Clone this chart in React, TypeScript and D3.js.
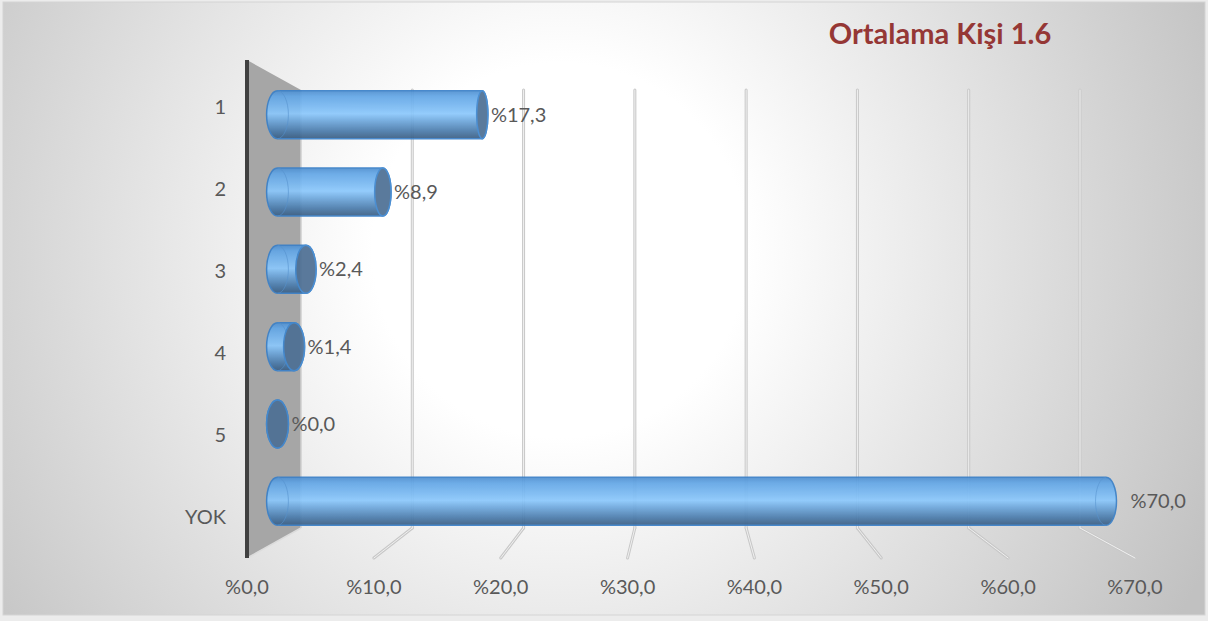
import React, { useEffect, useRef } from 'react';
import * as d3 from 'd3';

const categories = ['1', '2', '3', '4', '5', 'YOK'];
const values = [17.3, 8.9, 2.4, 1.4, 0.0, 70.0];
const ticks = [0, 10, 20, 30, 40, 50, 60, 70];
const title = 'Ortalama Kişi 1.6';

const W = 1208;
const H = 621;
const FONT = 'Lato, "Open Sans", sans-serif';

const fmt = (v: number) => '%' + v.toFixed(1).replace('.', ',');

const App: React.FC = () => {
  const ref = useRef<SVGSVGElement | null>(null);

  useEffect(() => {
    const svg = d3.select(ref.current);
    svg.selectAll('*').remove();

    // perspective planes: front (t=0), back (t=1), middle for the bars
    const xFront = d3.scaleLinear().domain([0, 70]).range([247, 1135]);
    const xBack = d3.scaleLinear().domain([0, 70]).range([301, 1080]);
    const xMid = d3.scaleLinear().domain([0, 70]).range([277.5, 1106]);
    const yFront = d3.scaleBand().domain(categories).range([66, 558]);
    const yMid = d3.scaleBand().domain(categories).range([76, 540]);
    const backTop = 90, backBottom = 528, frontTop = 60, frontBottom = 558;
    const viewX = 700;
    const rxAt = (x: number) => Math.max(2, 0.0258 * Math.abs(x - viewX));
    const ry = 24;

    const defs = svg.append('defs');
    const bg = defs.append('radialGradient').attr('id', 'bg')
      .attr('gradientUnits', 'userSpaceOnUse')
      .attr('cx', 560).attr('cy', 250).attr('r', 720);
    bg.append('stop').attr('offset', 0).attr('stop-color', '#ffffff');
    bg.append('stop').attr('offset', 0.26).attr('stop-color', '#ffffff');
    bg.append('stop').attr('offset', 1).attr('stop-color', '#c1c1c1');

    const bar = defs.append('linearGradient').attr('id', 'bar')
      .attr('x1', 0).attr('y1', 0).attr('x2', 0).attr('y2', 1);
    [[0, '#4f8fd0'], [0.12, '#62a6e6'], [0.36, '#7dbcf4'], [0.48, '#8bc8fc'],
     [0.62, '#6fa9de'], [0.84, '#4a7bab'], [1, '#3a5d82']].forEach(([o, c]) => {
      bar.append('stop').attr('offset', o as number).attr('stop-color', c as string);
    });

    svg.append('rect').attr('x', 0).attr('y', 0).attr('width', W).attr('height', H).attr('fill', '#ececec');
    svg.append('rect').attr('x', 3).attr('y', 2).attr('width', W - 6).attr('height', H - 8)
      .attr('fill', 'url(#bg)').attr('stroke', '#d4d4d4').attr('stroke-width', 1);

    // side wall
    svg.append('polygon')
      .attr('points', [[247, frontTop], [301, backTop], [301, backBottom], [247, frontBottom]].map(p => p.join(',')).join(' '))
      .attr('fill', '#a6a6a6');
    svg.append('line').attr('x1', 301).attr('x2', 301).attr('y1', backTop).attr('y2', backBottom)
      .attr('stroke', '#cfcfcf').attr('stroke-width', 1.5);
    svg.append('line').attr('x1', 301).attr('x2', 249).attr('y1', backBottom).attr('y2', frontBottom - 1)
      .attr('stroke', '#dcdcdc').attr('stroke-width', 1.5);

    // gridlines on back wall and floor
    const grid = svg.append('g');
    ticks.filter(t => t > 0).forEach(t => {
      const xb = xBack(t), xf = xFront(t);
      [['#c8c8c8', 3], ['#f0f0f0', 1]].forEach(([c, w]) => {
        grid.append('line').attr('x1', xb).attr('x2', xb).attr('y1', backTop).attr('y2', backBottom)
          .attr('stroke', c as string).attr('stroke-width', w as number).attr('stroke-linecap', 'round');
        grid.append('line').attr('x1', xb).attr('x2', xf).attr('y1', backBottom).attr('y2', frontBottom)
          .attr('stroke', c as string).attr('stroke-width', w as number).attr('stroke-linecap', 'round');
      });
    });

    // front axis line
    svg.append('line').attr('x1', 247).attr('x2', 247).attr('y1', frontTop).attr('y2', frontBottom)
      .attr('stroke', '#404040').attr('stroke-width', 4);

    // cylinders
    const bars = svg.append('g');
    categories.forEach((cat, i) => {
      const v = values[i];
      const cy = yMid(cat)! + yMid.bandwidth() / 2;
      const top = cy - ry, bottom = cy + ry;
      const x0 = xMid(0), x1 = xMid(v);
      const rx0 = rxAt(x0), rx1 = rxAt(x1);
      const g = bars.append('g').attr('opacity', 0.92);
      g.append('path')
        .attr('d', `M${x0},${top} L${x1},${top} A${rx1},${ry} 0 0 1 ${x1},${bottom} L${x0},${bottom} A${rx0},${ry} 0 0 1 ${x0},${top} Z`)
        .attr('fill', 'url(#bar)').attr('stroke', '#3a80c8').attr('stroke-width', 1.5);
      g.append('path')
        .attr('d', `M${x0},${top} A${rx0},${ry} 0 0 1 ${x0},${bottom}`)
        .attr('fill', 'none').attr('stroke', '#4f8fd0').attr('stroke-opacity', 0.6).attr('stroke-width', 1);
      if (x1 < viewX) {
        g.append('ellipse').attr('cx', x1).attr('cy', cy).attr('rx', rx1).attr('ry', ry)
          .attr('fill', '#4d6f94').attr('stroke', '#3c86d0').attr('stroke-width', 1.5);
      } else {
        g.append('path')
          .attr('d', `M${x1},${top} A${rx1},${ry} 0 0 0 ${x1},${bottom}`)
          .attr('fill', 'none').attr('stroke', '#4f8fd0').attr('stroke-opacity', 0.6).attr('stroke-width', 1);
      }
      svg.append('text')
        .attr('x', x1 + rx1 + (x1 < viewX ? 3 : 14)).attr('y', cy)
        .attr('dy', '0.35em')
        .attr('font-family', FONT).attr('font-size', 20).attr('fill', '#595959')
        .text(fmt(v));
    });

    // category labels
    svg.append('g').selectAll('text').data(categories).enter().append('text')
      .attr('x', 226)
      .attr('y', d => yFront(d)! + yFront.bandwidth() / 2)
      .attr('dy', '0.35em')
      .attr('text-anchor', 'end')
      .attr('font-family', FONT).attr('font-size', 20).attr('fill', '#595959')
      .text(d => d);

    // value axis labels
    svg.append('g').selectAll('text').data(ticks).enter().append('text')
      .attr('x', d => xFront(d))
      .attr('y', 587)
      .attr('dy', '0.35em')
      .attr('text-anchor', 'middle')
      .attr('font-family', FONT).attr('font-size', 20).attr('fill', '#595959')
      .text(d => fmt(d));

    svg.append('text')
      .attr('x', 940).attr('y', 44)
      .attr('text-anchor', 'middle')
      .attr('font-family', FONT).attr('font-size', 29).attr('font-weight', 'bold')
      .attr('fill', '#953735')
      .text(title);
  }, []);

  return (
    <svg ref={ref} width={W} height={H} style={{ position: 'absolute', left: 0, top: 0 }} />
  );
};

export default App;
